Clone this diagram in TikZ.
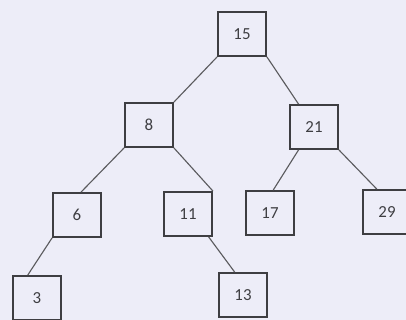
\documentclass[tikz,border=0pt]{standalone}
\usepackage{fontspec}
\setmainfont{Carlito}
\usepackage{xcolor}
\usepackage{tikz}
\definecolor{paper}{RGB}{237,237,248}
\definecolor{pencil}{RGB}{62,62,66}

\begin{document}
\begin{tikzpicture}[
    x=0.025cm, y=-0.025cm,
    keybox/.style={draw=pencil, line width=1.3pt, minimum width=1.2cm, minimum height=1.1cm, text=pencil, font=\large, inner sep=0pt},
    link/.style={draw=pencil!85, line width=0.8pt}
]
% paper
\fill[paper] (0,0) rectangle (406,320);
\useasboundingbox (0,0) rectangle (406,320);
% keys
\foreach \key/\x/\y in {15/242/34, 8/149/125, 21/314/127, 6/77/215, 11/188/214, 17/270/213, 29/387/212, 3/37/298, 13/243/295} {
    \node[keybox] (n\key) at (\x,\y) {\key};
}
% links
\foreach \a/\b in {n15.south west/n8.north east, n15.south east/n21.124, n8.south west/n6.80, n8.south east/n11.north east, n21.236/n17.82, n21.south east/n29.114, n6.south west/n3.112, n11.-48/n13.110} {
    \draw[link] (\a) -- (\b);
}
\end{tikzpicture}
\end{document}
